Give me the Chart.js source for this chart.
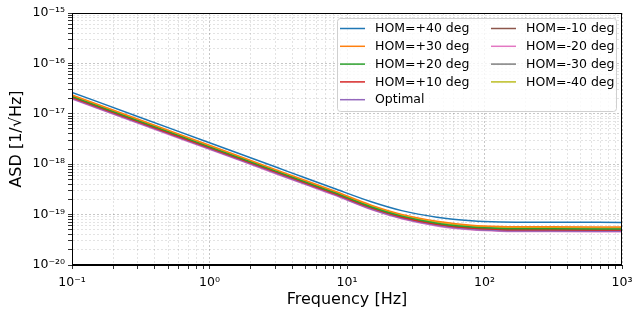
<!DOCTYPE html>
<html>
<head>
<meta charset="utf-8">
<script src="https://cdn.jsdelivr.net/npm/chart.js@4"></script>
<style>
  html, body { margin: 0; padding: 0; background: #fff; }
  #wrap { width: 634px; height: 317px; }
</style>
</head>
<body>
<div id="wrap"><canvas id="asdChart" width="634" height="317"></canvas></div>
<script>
// frequencies [Hz]
const freqs = [0.1, 0.3, 1, 3, 5, 8, 15, 25, 45, 80, 130, 300, 1000];

// ASD values [1/sqrt(Hz)]
const hom_p40 = [2.66e-17, 8.87e-18, 2.66e-18, 8.87e-19, 5.32e-19, 3.33e-19, 1.8e-19, 1.2e-19, 8.9e-20, 7.55e-20, 7.15e-20, 7.05e-20, 7.0e-20];
const hom_p30 = [2.37e-17, 7.9e-18, 2.37e-18, 7.9e-19, 4.74e-19, 2.97e-19, 1.54e-19, 1.01e-19, 7.38e-20, 6.18e-20, 5.83e-20, 5.73e-20, 5.69e-20];
const hom_p20 = [2.21e-17, 7.38e-18, 2.21e-18, 7.38e-19, 4.43e-19, 2.77e-19, 1.42e-19, 9.32e-20, 6.76e-20, 5.65e-20, 5.32e-20, 5.22e-20, 5.19e-20];
const hom_p10 = [2.11e-17, 7.04e-18, 2.11e-18, 7.04e-19, 4.22e-19, 2.64e-19, 1.36e-19, 8.9e-20, 6.45e-20, 5.4e-20, 5.08e-20, 4.99e-20, 4.96e-20];
const optimal = [2.02e-17, 6.73e-18, 2.02e-18, 6.73e-19, 4.04e-19, 2.53e-19, 1.29e-19, 8.45e-20, 6.11e-20, 5.1e-20, 4.8e-20, 4.71e-20, 4.68e-20];
const hom_m10 = [2.06e-17, 6.88e-18, 2.06e-18, 6.88e-19, 4.13e-19, 2.58e-19, 1.32e-19, 8.68e-20, 6.27e-20, 5.24e-20, 4.93e-20, 4.84e-20, 4.81e-20];
const hom_m20 = [1.97e-17, 6.56e-18, 1.97e-18, 6.56e-19, 3.94e-19, 2.46e-19, 1.26e-19, 8.26e-20, 5.96e-20, 4.98e-20, 4.69e-20, 4.6e-20, 4.57e-20];
const hom_m30 = [2.16e-17, 7.21e-18, 2.16e-18, 7.21e-19, 4.33e-19, 2.71e-19, 1.39e-19, 9.12e-20, 6.6e-20, 5.52e-20, 5.2e-20, 5.1e-20, 5.07e-20];
const hom_m40 = [2.28e-17, 7.62e-18, 2.28e-18, 7.62e-19, 4.57e-19, 2.86e-19, 1.48e-19, 9.71e-20, 7.06e-20, 5.91e-20, 5.56e-20, 5.47e-20, 5.43e-20];

const seriesNames = ['HOM=+40 deg', 'HOM=+30 deg', 'HOM=+20 deg', 'HOM=+10 deg', 'Optimal',
                     'HOM=-10 deg', 'HOM=-20 deg', 'HOM=-30 deg', 'HOM=-40 deg'];
const seriesValues = [hom_p40, hom_p30, hom_p20, hom_p10, optimal, hom_m10, hom_m20, hom_m30, hom_m40];
const seriesColors = ['#1f77b4', '#ff7f0e', '#2ca02c', '#d62728', '#9467bd',
                      '#8c564b', '#e377c2', '#7f7f7f', '#bcbd22'];

// axis ranges (decades)
const xDecades = [-1, 0, 1, 2, 3];
const yDecades = [-20, -19, -18, -17, -16, -15];

const FONT = "'DejaVu Sans', sans-serif";
const SUP = { '-': '\u207B', '0': '\u2070', '1': '\u00B9', '2': '\u00B2', '3': '\u00B3',
              '4': '\u2074', '5': '\u2075', '6': '\u2076', '7': '\u2077', '8': '\u2078', '9': '\u2079' };

function isDecade(v) {
    const l = Math.log10(v);
    return Math.abs(l - Math.round(l)) < 1e-6;
}
function decadeLabel(v) {
    if (!isDecade(v)) return '';
    const e = String(Math.round(Math.log10(v)));
    return '10' + e.split('').map(c => SUP[c]).join('');
}
function logTicks(decades) {
    const ticks = [];
    for (let i = 0; i < decades.length; i++) {
        const base = Math.pow(10, decades[i]);
        if (i === decades.length - 1) { ticks.push({ value: base }); break; }
        for (let m = 1; m <= 9; m++) ticks.push({ value: m * base });
    }
    return ticks;
}
function gridColor(ctx) {
    return ctx.tick && isDecade(ctx.tick.value) ? 'rgba(0,0,0,0.28)' : 'rgba(0,0,0,0.14)';
}

// full box around the plot + legend in two columns, drawn like matplotlib
const framePlugin = {
    id: 'frame',
    afterDatasetsDraw(chart) {
        const { ctx, chartArea: a } = chart;
        ctx.save();
        ctx.strokeStyle = '#000';
        ctx.lineWidth = 1;
        ctx.strokeRect(a.left + 0.5, a.top + 0.5, a.right - a.left - 1, a.bottom - a.top - 1);

        // legend
        const bx = 337, by = 18, bw = 279, bh = 93;
        ctx.fillStyle = 'rgba(255,255,255,0.8)';
        ctx.strokeStyle = '#d0d0d0';
        ctx.beginPath();
        ctx.roundRect(bx + 0.5, by + 0.5, bw, bh, 3);
        ctx.fill();
        ctx.stroke();

        ctx.font = '12.5px ' + FONT;
        ctx.textBaseline = 'middle';
        ctx.textAlign = 'left';
        chart.data.datasets.forEach((ds, i) => {
            const col = i < 5 ? 0 : 1;
            const row = i < 5 ? i : i - 5;
            const lx = col === 0 ? 340 : 491;
            const ly = 28.5 + row * 17.8;
            ctx.strokeStyle = ds.borderColor;
            ctx.lineWidth = 1.5;
            ctx.beginPath();
            ctx.moveTo(lx, ly);
            ctx.lineTo(lx + 25, ly);
            ctx.stroke();
            ctx.fillStyle = '#000';
            ctx.fillText(ds.label, lx + 35, ly + 0.5);
        });
        ctx.restore();
    }
};

const ctx = document.getElementById('asdChart').getContext('2d');
const asdChart = new Chart(ctx, {
    type: 'line',
    data: {
        datasets: seriesNames.map((name, i) => ({
            label: name,
            data: freqs.map((f, j) => ({ x: f, y: seriesValues[i][j] })),
            borderColor: seriesColors[i],
            backgroundColor: seriesColors[i],
            borderWidth: 1.5,
            pointRadius: 0,
            fill: false,
            cubicInterpolationMode: 'monotone'
        }))
    },
    options: {
        responsive: false,
        animation: false,
        layout: { padding: { left: 0, right: 12, top: 13, bottom: 0 } },
        plugins: {
            legend: { display: false },
            tooltip: { enabled: false }
        },
        scales: {
            x: {
                type: 'logarithmic',
                min: 0.1,
                max: 1000,
                afterBuildTicks: s => { s.ticks = logTicks(xDecades); },
                afterFit: s => { s.height = 52; s.paddingLeft = 0; s.paddingRight = 0; },
                ticks: {
                    autoSkip: false,
                    maxRotation: 0,
                    padding: 6,
                    color: '#000',
                    font: { family: FONT, size: 12.5 },
                    callback: v => decadeLabel(v)
                },
                grid: { color: gridColor, tickColor: '#000', tickLength: 4, lineWidth: 0.8 },
                border: { color: '#000', dash: [2, 2] },
                title: {
                    display: true,
                    text: 'Frequency [Hz]',
                    color: '#000',
                    font: { family: FONT, size: 16 },
                    padding: { top: 2, bottom: 8 }
                }
            },
            y: {
                type: 'logarithmic',
                min: 1e-20,
                max: 1e-15,
                afterBuildTicks: s => { s.ticks = logTicks(yDecades); },
                afterFit: s => { s.width = 72; s.paddingTop = 0; s.paddingBottom = 0; },
                ticks: {
                    autoSkip: false,
                    padding: 3,
                    color: '#000',
                    font: { family: FONT, size: 12.5 },
                    callback: v => decadeLabel(v)
                },
                grid: { color: gridColor, tickColor: '#000', tickLength: 4, lineWidth: 0.8 },
                border: { color: '#000', dash: [2, 2] },
                title: {
                    display: true,
                    text: 'ASD [1/\u221AHz]',
                    color: '#000',
                    font: { family: FONT, size: 16 },
                    padding: { top: 7, bottom: 4 }
                }
            }
        }
    },
    plugins: [framePlugin]
});
</script>
</body>
</html>
